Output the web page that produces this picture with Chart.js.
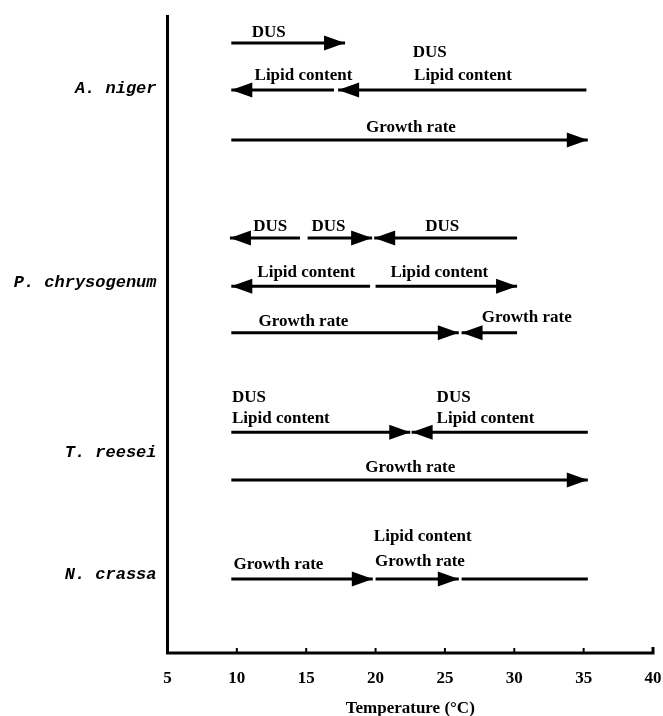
<!DOCTYPE html>
<html>
<head>
<meta charset="utf-8">
<script src="https://cdn.jsdelivr.net/npm/chart.js@4.4.1/dist/chart.umd.min.js"></script>
<style>
  html, body { margin: 0; padding: 0; background: #fff; }
  #wrap { width: 663px; height: 716px; }
</style>
</head>
<body>
<div id="wrap"><canvas id="tempChart" width="663" height="716"></canvas></div>
<script>
// temperature axis
var xTicks = [5, 10, 15, 20, 25, 30, 35, 40];

// species and the row (layout units, 0 = top, 100 = axis) where each sits
var speciesNames = ['A. niger', 'P. chrysogenum', 'T. reesei', 'N. crassa'];
var speciesRows = [11.6, 42.0, 68.65, 87.8];

// arrows: [from temp, to temp, row, arrowhead]
var nigerArrows = [
    [9.6, 17.8, 4.4, 1],
    [17.0, 9.6, 11.75, 1],
    [35.2, 17.3, 11.75, 1],
    [9.6, 35.3, 19.6, 1]
];
var chrysoArrows = [
    [14.55, 9.5, 34.95, 1],
    [15.1, 19.75, 34.95, 1],
    [30.2, 19.9, 34.95, 1],
    [19.6, 9.6, 42.5, 1],
    [20.0, 30.2, 42.5, 1],
    [9.6, 26.0, 49.8, 1],
    [30.2, 26.2, 49.8, 1]
];
var reeseiArrows = [
    [9.6, 22.5, 65.4, 1],
    [35.3, 22.6, 65.4, 1],
    [9.6, 35.3, 72.9, 1]
];
var crassaArrows = [
    [9.6, 19.8, 88.4, 1],
    [20.0, 26.0, 88.4, 1],
    [26.2, 35.3, 88.4, 0]
];

// labels: [text, temp, row, align]
var nigerLabels = [
    ['DUS', 12.3, 2.8, 'center'],
    ['DUS', 23.9, 5.95, 'center'],
    ['Lipid content', 14.8, 9.55, 'center'],
    ['Lipid content', 26.3, 9.55, 'center'],
    ['Growth rate', 22.55, 17.7, 'center']
];
var chrysoLabels = [
    ['DUS', 12.4, 33.2, 'center'],
    ['DUS', 16.6, 33.2, 'center'],
    ['DUS', 24.8, 33.2, 'center'],
    ['Lipid content', 15.0, 40.3, 'center'],
    ['Lipid content', 24.6, 40.3, 'center'],
    ['Growth rate', 14.8, 48.1, 'center'],
    ['Growth rate', 30.9, 47.5, 'center']
];
var reeseiLabels = [
    ['DUS', 9.65, 60.0, 'left'],
    ['Lipid content', 9.65, 63.2, 'left'],
    ['DUS', 24.4, 60.0, 'left'],
    ['Lipid content', 24.4, 63.2, 'left'],
    ['Growth rate', 22.5, 71.0, 'center']
];
var crassaLabels = [
    ['Lipid content', 23.4, 81.7, 'center'],
    ['Growth rate', 23.2, 85.7, 'center'],
    ['Growth rate', 13.0, 86.2, 'center']
];

var allArrows = nigerArrows.concat(chrysoArrows, reeseiArrows, crassaArrows);
var allLabels = nigerLabels.concat(chrysoLabels, reeseiLabels, crassaLabels);

var serif = "'Liberation Serif', 'Times New Roman', serif";

var datasets = allArrows.map(function (a) {
    return {
        data: [{x: a[0], y: a[2]}, {x: a[1], y: a[2]}],
        head: a[3],
        borderColor: '#000',
        borderWidth: 3,
        borderCapStyle: 'butt',
        pointRadius: 0,
        showLine: true,
        fill: false
    };
});

// axis frame with the small inward ticks
var framePlugin = {
    id: 'frame',
    afterDraw: function (chart) {
        var ctx = chart.ctx;
        var a = chart.chartArea;
        var xs = chart.scales.x;
        ctx.save();
        ctx.strokeStyle = '#000';
        ctx.lineWidth = 3;
        ctx.beginPath();
        ctx.moveTo(a.left, a.top);
        ctx.lineTo(a.left, a.bottom);
        ctx.lineTo(a.right, a.bottom);
        ctx.lineTo(a.right, a.bottom - 6);
        ctx.stroke();
        ctx.lineWidth = 2;
        xTicks.forEach(function (v) {
            if (v === xTicks[0] || v === xTicks[xTicks.length - 1]) return;
            var px = xs.getPixelForValue(v);
            ctx.beginPath();
            ctx.moveTo(px, a.bottom);
            ctx.lineTo(px, a.bottom - 5);
            ctx.stroke();
        });
        ctx.restore();
    }
};

var arrowPlugin = {
    id: 'arrowHeads',
    afterDatasetsDraw: function (chart) {
        var ctx = chart.ctx;
        ctx.save();
        ctx.fillStyle = '#000';
        chart.data.datasets.forEach(function (ds, i) {
            if (!ds.head) return;
            var pts = chart.getDatasetMeta(i).data;
            var p0 = pts[0], p1 = pts[1];
            var dir = p1.x > p0.x ? 1 : -1;
            var len = 21, half = 7.5;
            ctx.beginPath();
            ctx.moveTo(p1.x, p1.y);
            ctx.lineTo(p1.x - dir * len, p1.y - half);
            ctx.lineTo(p1.x - dir * len, p1.y + half);
            ctx.closePath();
            ctx.fill();
        });
        ctx.restore();
    }
};

var labelPlugin = {
    id: 'arrowLabels',
    afterDatasetsDraw: function (chart) {
        var ctx = chart.ctx;
        var xs = chart.scales.x, ys = chart.scales.y;
        ctx.save();
        ctx.fillStyle = '#000';
        ctx.font = 'bold 17px ' + serif;
        ctx.textBaseline = 'middle';
        allLabels.forEach(function (l) {
            ctx.textAlign = l[3];
            ctx.fillText(l[0], xs.getPixelForValue(l[1]), ys.getPixelForValue(l[2]));
        });
        ctx.restore();
    }
};

new Chart(document.getElementById('tempChart'), {
    type: 'scatter',
    data: { datasets: datasets },
    options: {
        responsive: false,
        animation: false,
        layout: { padding: { top: 15, right: 10, left: 0, bottom: 0 } },
        plugins: {
            legend: { display: false },
            tooltip: { enabled: false }
        },
        scales: {
            x: {
                type: 'linear',
                min: 5,
                max: 40,
                afterBuildTicks: function (axis) {
                    axis.ticks = xTicks.map(function (v) { return {value: v}; });
                },
                afterFit: function (axis) {
                    axis.height = 63;
                    axis.paddingLeft = 0;
                    axis.paddingRight = 0;
                },
                grid: { display: false, drawTicks: false },
                border: { display: false },
                ticks: {
                    color: '#000',
                    padding: 15,
                    maxRotation: 0,
                    autoSkip: false,
                    font: { family: serif, size: 17, weight: 'bold' }
                },
                title: {
                    display: true,
                    text: 'Temperature (°C)',
                    color: '#000',
                    padding: 0,
                    font: { family: serif, size: 17, weight: 'bold', lineHeight: '14px' }
                }
            },
            y: {
                type: 'linear',
                reverse: true,
                min: 0,
                max: 100,
                afterBuildTicks: function (axis) {
                    axis.ticks = speciesRows.map(function (v) { return {value: v}; });
                },
                afterFit: function (axis) {
                    axis.width = 167.5;
                    axis.paddingTop = 0;
                    axis.paddingBottom = 0;
                },
                grid: { display: false, drawTicks: false },
                border: { display: false },
                ticks: {
                    color: '#000',
                    padding: 11,
                    autoSkip: false,
                    font: { family: "'Liberation Mono', 'Courier New', monospace", size: 17, style: 'italic', weight: 'bold' },
                    callback: function (value) {
                        return speciesNames[speciesRows.indexOf(value)];
                    }
                }
            }
        }
    },
    plugins: [framePlugin, arrowPlugin, labelPlugin]
});
</script>
</body>
</html>
